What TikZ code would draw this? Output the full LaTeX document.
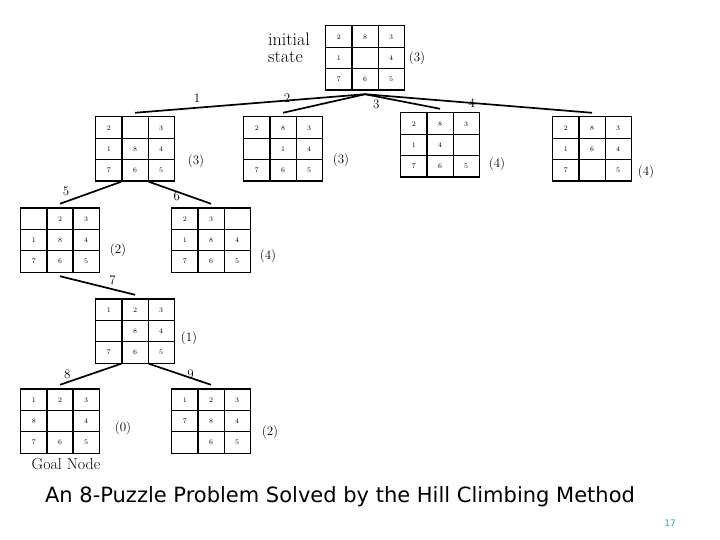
\documentclass[tikz,border=0pt]{standalone}
\usepackage{fontspec}
\usepackage{xcolor}
\usetikzlibrary{matrix, positioning}
\newfontfamily\titlefont{DejaVu Sans}
\definecolor{pagenum}{RGB}{60,160,170}

\begin{document}
\begin{tikzpicture}[
    x=1pt, y=-1pt,
    board/.style={matrix of nodes, nodes in empty cells,
        column sep=-1.2pt, row sep=-1.2pt,
        nodes={draw, line width=1.2pt, minimum width=26.2pt, minimum height=21.4pt,
               inner sep=0pt, anchor=center, text height=5pt, text depth=0pt,
               font=\fontsize{7}{7}\selectfont}},
    edge/.style={line width=1.7pt},
    cost/.style={font=\fontsize{13}{14}\selectfont},
    step label/.style={font=\fontsize{13}{14}\selectfont, inner sep=1pt}
]
\useasboundingbox (0,0) rectangle (720,540);

% the states
\matrix[board] (init) at (365,58) {2 & 8 & 3\\ 1 & & 4\\ 7 & 6 & 5\\};
\matrix[board] (c1) at (135,149) {2 & & 3\\ 1 & 8 & 4\\ 7 & 6 & 5\\};
\matrix[board] (c2) at (283,149) {2 & 8 & 3\\ & 1 & 4\\ 7 & 6 & 5\\};
\matrix[board] (c3) at (440,145) {2 & 8 & 3\\ 1 & 4 & \\ 7 & 6 & 5\\};
\matrix[board] (c4) at (592,149) {2 & 8 & 3\\ 1 & 6 & 4\\ 7 & & 5\\};
\matrix[board] (n5) at (60,240) {& 2 & 3\\ 1 & 8 & 4\\ 7 & 6 & 5\\};
\matrix[board] (n6) at (211,240) {2 & 3 & \\ 1 & 8 & 4\\ 7 & 6 & 5\\};
\matrix[board] (n7) at (135,331) {1 & 2 & 3\\ & 8 & 4\\ 7 & 6 & 5\\};
\matrix[board] (n8) at (60,421) {1 & 2 & 3\\ 8 & & 4\\ 7 & 6 & 5\\};
\matrix[board] (n9) at (211,421) {1 & 2 & 3\\ 7 & 8 & 4\\ & 6 & 5\\};

% heuristic values
\node[cost] (h0) at (417,58) {(3)};
\node[cost] (h1) at (196,161) {(3)};
\node[cost] (h2) at (341,160) {(3)};
\node[cost] (h3) at (497,164) {(4)};
\node[cost] (h4) at (646,172) {(4)};
\node[cost] (h5) at (118,250) {(2)};
\node[cost] (h6) at (268,256) {(4)};
\node[cost] (h7) at (189,338) {(1)};
\node[cost] (h8) at (123,428) {(0)};
\node[cost] (h9) at (270,432) {(2)};

\node[font=\fontsize{18}{17}\selectfont, align=left] (start) at (289,48) {initial\\state};
\node[font=\fontsize{16}{16}\selectfont\addfontfeatures{LetterSpace=6}] (goal) at (66,464) {Goal Node};

% moves
\draw[edge] (init.south) -- node[step label, pos=0.73, above=3pt] {1} (c1.north);
\draw[edge] (init.south) -- node[step label, pos=0.95, above=7pt] {2} (c2.north);
\draw[edge] (init.south) -- node[step label, pos=0.15, below=2pt] {3} (c3.north);
\draw[edge] (init.south) -- node[step label, pos=0.47] {4} (c4.north);
\draw[edge] (c1-3-2.south west) -- node[step label, pos=0.9, above=4pt] {5} (n5.north);
\draw[edge] (c1-3-2.south east) -- node[step label, pos=0.45, below=-2pt] {6} (n6.north);
\draw[edge] (n5.south) -- node[step label, pos=0.7, above=3pt] {7} (n7.north);
\draw[edge] (n7-3-2.south west) -- node[step label, pos=0.88, above=2pt] {8} (n8.north);
\draw[edge] (n7-3-2.south east) -- node[step label, pos=0.67, above=-3pt] {9} (n9.north);

\node[font=\titlefont\fontsize{21}{24}\selectfont] (title) at (340,497)
    {An 8-Puzzle Problem Solved by the Hill Climbing Method};
\node[font=\titlefont\fontsize{9}{10}\selectfont, text=pagenum] (page) at (670,523) {17};
\end{tikzpicture}
\end{document}
